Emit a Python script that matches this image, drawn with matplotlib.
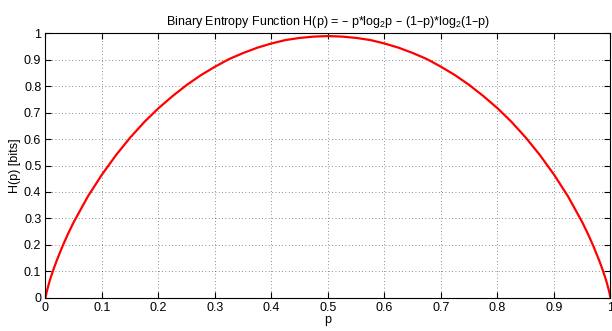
import matplotlib
matplotlib.use('Agg')
import matplotlib.pyplot as plt

plt.rcParams['font.family'] = ['Liberation Sans', 'DejaVu Sans']
plt.rcParams['mathtext.default'] = 'regular'

# values
p = [0, 0.0025, 0.005, 0.0075, 0.01, 0.015, 0.02, 0.03, 0.04, 0.05, 0.075,
     0.1, 0.125, 0.15, 0.175, 0.2, 0.225, 0.25, 0.275, 0.3, 0.325, 0.35,
     0.375, 0.4, 0.425, 0.45, 0.475, 0.5, 0.525, 0.55, 0.575, 0.6, 0.625,
     0.65, 0.675, 0.7, 0.725, 0.75, 0.775, 0.8, 0.825, 0.85, 0.875, 0.9,
     0.925, 0.95, 0.96, 0.97, 0.98, 0.985, 0.99, 0.9925, 0.995, 0.9975, 1]
h = [0, 0.025, 0.045, 0.064, 0.081, 0.112, 0.141, 0.194, 0.242, 0.286, 0.383,
     0.466, 0.54, 0.606, 0.665, 0.717, 0.763, 0.805, 0.842, 0.874, 0.903, 0.926,
     0.946, 0.962, 0.975, 0.983, 0.988, 0.99, 0.988, 0.983, 0.975, 0.962, 0.946,
     0.926, 0.903, 0.874, 0.842, 0.805, 0.763, 0.717, 0.665, 0.606, 0.54, 0.466,
     0.383, 0.286, 0.242, 0.194, 0.141, 0.112, 0.081, 0.064, 0.045, 0.025, 0]

xticks = [0, 0.1, 0.2, 0.3, 0.4, 0.5, 0.6, 0.7, 0.8, 0.9, 1]
yticks = [0, 0.1, 0.2, 0.3, 0.4, 0.5, 0.6, 0.7, 0.8, 0.9, 1]
ticklabels = ['0', '0.1', '0.2', '0.3', '0.4', '0.5', '0.6', '0.7', '0.8', '0.9', '1']

fig = plt.figure(figsize=(6.12, 3.31), dpi=100)
ax = fig.add_axes([0.0743, 0.1006, 0.9232, 0.7984])

ax.plot(p, h, color='red', linewidth=1.6, solid_capstyle='butt', solid_joinstyle='round')

ax.set_xlim(0, 1)
ax.set_ylim(0, 1)
ax.set_xticks(xticks)
ax.set_yticks(yticks)
ax.set_xticklabels(ticklabels)
ax.set_yticklabels(ticklabels)
ax.tick_params(direction='in', length=4, width=0.8, top=True, right=True, pad=3, labelsize=9)
ax.grid(True, linestyle=(0, (1, 3)), color='black', linewidth=0.6, alpha=0.6)
for s in ax.spines.values():
    s.set_linewidth(0.8)

ax.set_xlabel('p', fontsize=9, labelpad=0)
ax.set_ylabel('H(p) [bits]', fontsize=9, labelpad=2)
ax.set_title('Binary Entropy Function H(p) = \u2013 p*log$_2$p \u2013 (1\u2013p)*log$_2$(1\u2013p)',
             fontsize=9, pad=6)

fig.savefig('out.png', dpi=100)
